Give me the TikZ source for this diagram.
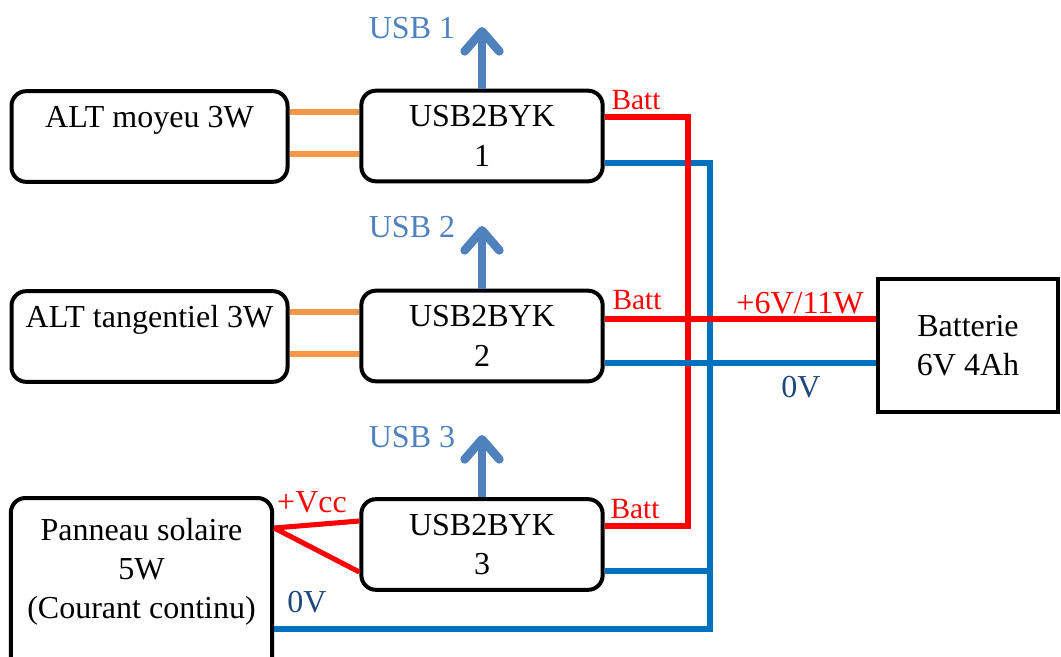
\documentclass[tikz,border=0pt]{standalone}
\usepackage{fontspec}
\setmainfont{Liberation Serif}
\usetikzlibrary{arrows.meta}
\definecolor{wireorange}{RGB}{247,150,70}
\definecolor{wirered}{RGB}{255,0,0}
\definecolor{wireblue}{RGB}{0,112,192}
\definecolor{usbblue}{RGB}{79,129,189}
\definecolor{zeroblue}{RGB}{31,73,125}

\tikzset{
  blk/.style={draw=black,line width=3pt,rounded corners=11pt,fill=white,
              align=center,inner sep=0pt},
  altbox/.style={blk,minimum width=207pt,minimum height=68pt},
  convbox/.style={blk,minimum width=181pt,minimum height=68pt},
  orangewire/.style={wireorange,line width=3.8pt},
  battwire/.style={wirered,line width=3.8pt},
  gndwire/.style={wireblue,line width=3.8pt},
  usbout/.style={usbblue,line width=6.5pt,
                 -{Straight Barb[length=15pt,width=26pt,round]}},
  lbl/.style={inner sep=0pt},
  battlbl/.style={lbl,text=wirered,font=\fontsize{22}{26}\selectfont}
}

\begin{document}
\begin{tikzpicture}[x=0.75pt,y=-0.75pt,font=\fontsize{24}{29.5}\selectfont]
  \useasboundingbox (0,0) rectangle (1061,657);

  % sources
  \node[altbox] (alt1) at (149.5,136.5) {ALT moyeu 3W\\\mbox{}};
  \node[altbox] (alt2) at (149.5,336.5) {ALT tangentiel 3W\\\mbox{}};
  \node[blk,minimum width=196pt,minimum height=135pt] (pv) at (141.5,588)
    {Panneau solaire\\5W\\(Courant continu)\\\mbox{}};

  % converters
  \node[convbox] (conv1) at (482,136) {USB2BYK\\1};
  \node[convbox] (conv2) at (482,336) {USB2BYK\\2};
  \node[convbox] (conv3) at (482,544.5) {USB2BYK\\3};

  % battery
  \node[draw=black,line width=3pt,minimum width=135pt,minimum height=100pt,
        align=center,inner sep=0pt] (bat) at (968,345.5) {Batterie\\6V 4Ah};

  % usb outputs
  \coordinate (usb1) at (482,27);
  \coordinate (usb2) at (482,226);
  \coordinate (usb3) at (482,435);
  \draw[usbout] (conv1.north) -- (usb1);
  \draw[usbout] (conv2.north) -- (usb2);
  \draw[usbout] (conv3.north) -- (usb3);
  \node[lbl,text=usbblue] (usbl1) at (412,28) {USB 1};
  \node[lbl,text=usbblue] (usbl2) at (412,227) {USB 2};
  \node[lbl,text=usbblue] (usbl3) at (412,437) {USB 3};

  % alternator wires
  \draw[orangewire] (alt1.east |- 0,112) -- (conv1.west |- 0,112);
  \draw[orangewire] (alt1.east |- 0,154) -- (conv1.west |- 0,154);
  \draw[orangewire] (alt2.east |- 0,312) -- (conv2.west |- 0,312);
  \draw[orangewire] (alt2.east |- 0,354) -- (conv2.west |- 0,354);

  % solar panel wires
  \draw[battwire] (pv.east |- 0,528) -- (conv3.west |- 0,521);
  \draw[battwire] (pv.east |- 0,528) -- (conv3.west |- 0,572);
  \draw[gndwire] (pv.east |- 0,629) -- (710,629) -- (710,163) -- (conv1.east |- 0,163);
  \draw[gndwire] (conv3.east |- 0,571) -- (710,571);

  % battery bus
  \draw[battwire] (conv1.east |- 0,117) -- (688,117) -- (688,526) -- (conv3.east |- 0,526);
  \draw[battwire] (conv2.east |- 0,319) -- (bat.west |- 0,319);
  \draw[gndwire] (conv2.east |- 0,363) -- (bat.west |- 0,363);

  % wire labels
  \node[battlbl] (batt1) at (636,100) {Batt};
  \node[battlbl] (batt2) at (637,300) {Batt};
  \node[battlbl] (batt3) at (635,509) {Batt};
  \node[lbl,text=wirered] (vbat) at (800,303) {+6V/11W};
  \node[lbl,text=zeroblue] (zbat) at (801,387) {0V};
  \node[lbl,text=wirered] (vcc) at (312,502) {+Vcc};
  \node[lbl,text=zeroblue] (zpv) at (307,602) {0V};
\end{tikzpicture}
\end{document}
